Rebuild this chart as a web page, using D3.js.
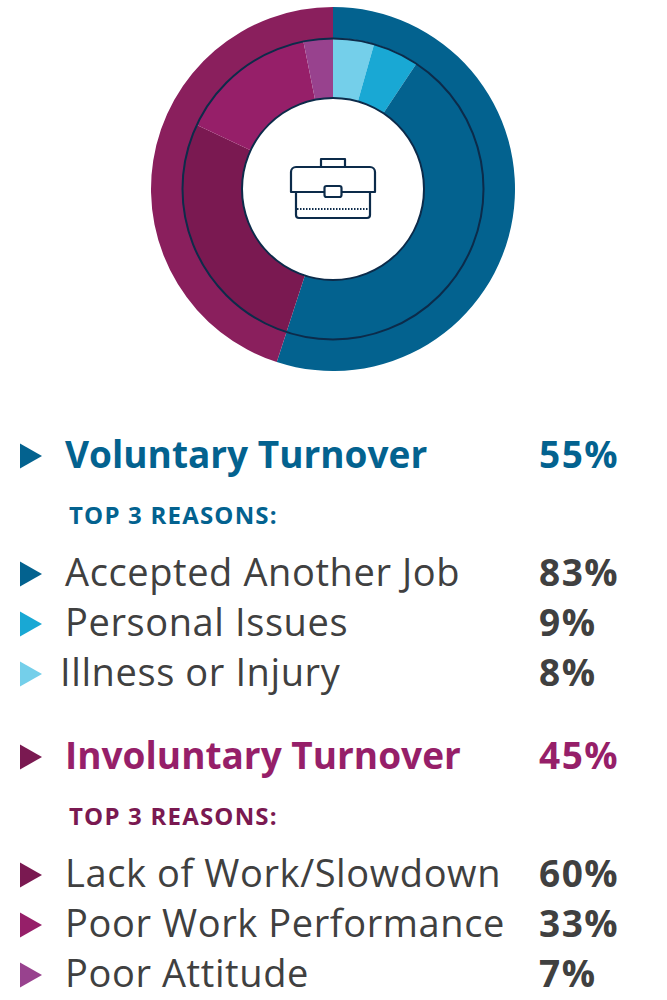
<!DOCTYPE html>
<html>
<head>
<meta charset="utf-8">
<script src="https://cdn.jsdelivr.net/npm/d3@7"></script>
<style>
  html, body { margin: 0; padding: 0; background: #fff; }
  svg { display: block; }
  text { font-family: "Open Sans", Lato, sans-serif; }
</style>
</head>
<body>
<div id="chart"></div>
<script>
// turnover split and the top reasons inside each part
var groups = ["Voluntary Turnover", "Involuntary Turnover"];
var groupShares = [55, 45];
var voluntaryReasons = ["Accepted Another Job", "Personal Issues", "Illness or Injury"];
var voluntaryValues = [83, 9, 8];
var involuntaryReasons = ["Lack of Work/Slowdown", "Poor Work Performance", "Poor Attitude"];
var involuntaryValues = [60, 33, 7];
var subHeading = "TOP 3 REASONS:";

var groupColors = ["#03628f", "#8a1f5d"];
var titleColors = ["#03628f", "#961f69"];
var subColors = ["#03628f", "#7a1951"];
var volColors = ["#03628f", "#19a8d4", "#74cfea"];
var invColors = ["#7a1951", "#961f69", "#98428e"];
var lineColor = "#0c2b4a";
var grey = "#404040";

var W = 667, H = 1000;
var cx = 333, cy = 189;

var svg = d3.select("#chart").append("svg")
  .attr("width", W)
  .attr("height", H);

var g = svg.append("g").attr("transform", "translate(" + cx + "," + cy + ")");

var pie = d3.pie().sort(null).value(function(d){ return d.v; });

// outer ring - the two groups
var outerArc = d3.arc().innerRadius(150).outerRadius(182);
g.selectAll("path.outer")
  .data(pie(groupShares.map(function(v, i){ return {v: v, c: groupColors[i]}; })))
  .enter().append("path")
  .attr("class", "outer")
  .attr("d", outerArc)
  .attr("fill", function(d){ return d.data.c; });

// inner ring - reasons scaled by their group share (voluntary drawn smallest first)
var inner = [];
voluntaryValues.forEach(function(v, i){
  inner.push({v: v * groupShares[0] / 100, c: volColors[i]});
});
inner.reverse();
involuntaryValues.forEach(function(v, i){
  inner.push({v: v * groupShares[1] / 100, c: invColors[i]});
});

var innerArc = d3.arc().innerRadius(90).outerRadius(151);
g.selectAll("path.inner")
  .data(pie(inner))
  .enter().append("path")
  .attr("class", "inner")
  .attr("d", innerArc)
  .attr("fill", function(d){ return d.data.c; });

g.append("circle").attr("r", 150.5)
  .attr("fill", "none").attr("stroke", lineColor).attr("stroke-width", 2);
g.append("circle").attr("r", 91)
  .attr("fill", "#fff").attr("stroke", lineColor).attr("stroke-width", 2);

// briefcase icon
var icon = g.append("g").attr("transform", "translate(0,-2)")
  .attr("fill", "#fff").attr("stroke", lineColor).attr("stroke-width", 2.2)
  .attr("stroke-linejoin", "round");
icon.append("rect").attr("x", -12).attr("y", -28).attr("width", 24).attr("height", 10);
icon.append("path")
  .attr("d", "M-37,4 v24 a3,3 0 0 0 3,3 h68 a3,3 0 0 0 3,-3 v-24");
icon.append("path")
  .attr("d", "M-42,-15 a5,5 0 0 1 5,-5 h74 a5,5 0 0 1 5,5 v20 h-84 z");
icon.append("rect").attr("x", -8.5).attr("y", -1).attr("width", 17).attr("height", 11).attr("rx", 2);
icon.append("line").attr("x1", -36).attr("x2", 36).attr("y1", 22).attr("y2", 22)
  .attr("stroke-width", 2).attr("stroke-dasharray", "1.5,1.5");

// legend blocks
var blockTop = d3.scaleOrdinal().domain(groups).range([456, 757]);
var rowY = d3.scaleLinear().domain([0, 1]).range([118, 168]);

function tri(sel, y, color){
  sel.append("path")
    .attr("d", "M20," + (y - 12.5) + " L42," + y + " L20," + (y + 12.5) + " Z")
    .attr("fill", color);
}

var blocks = [
  {name: groups[0], share: groupShares[0], reasons: voluntaryReasons, values: voluntaryValues, colors: volColors},
  {name: groups[1], share: groupShares[1], reasons: involuntaryReasons, values: involuntaryValues, colors: invColors}
];

blocks.forEach(function(b, bi){
  var y0 = blockTop(b.name);
  var lg = svg.append("g");
  tri(lg, y0, bi === 0 ? volColors[0] : invColors[0]);
  lg.append("text").attr("x", 65).attr("y", y0 + 11.5)
    .attr("font-size", 37).attr("font-weight", 700).attr("fill", titleColors[bi])
    .text(b.name);
  lg.append("text").attr("x", 539).attr("y", y0 + 11.5)
    .attr("font-size", 37).attr("font-weight", 700).attr("fill", titleColors[bi])
    .attr("letter-spacing", 1.5)
    .text(b.share + "%");
  lg.append("text").attr("x", 69).attr("y", y0 + 67.5)
    .attr("font-size", 24).attr("font-weight", 700).attr("fill", subColors[bi])
    .attr("letter-spacing", 1.2)
    .text(subHeading);

  b.reasons.forEach(function(r, i){
    var y = y0 + rowY(i);
    tri(lg, y, b.colors[i]);
    lg.append("text").attr("x", r === "Illness or Injury" ? 60 : 65).attr("y", y + 12)
      .attr("font-size", 38).attr("fill", grey)
      .attr("letter-spacing", 0.6)
      .text(r);
    lg.append("text").attr("x", 539).attr("y", y + 12)
      .attr("font-size", 37).attr("font-weight", 700).attr("fill", grey)
      .attr("letter-spacing", 1.5)
      .text(b.values[i] + "%");
  });
});
</script>
</body>
</html>
